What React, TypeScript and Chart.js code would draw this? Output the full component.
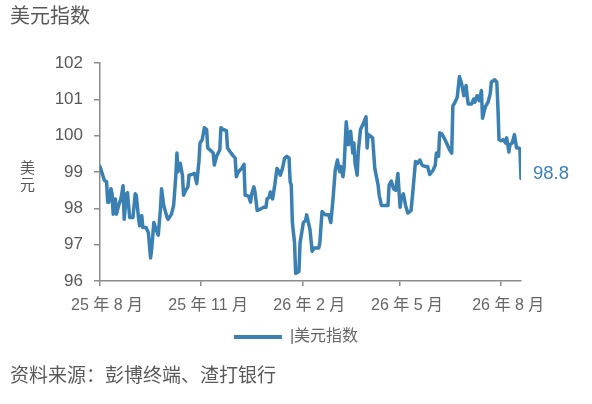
import React, { useEffect, useRef } from "react";
import { Chart, registerables } from "chart.js";

Chart.register(...registerables);

// Days since 2025-08-01 for each observation
const days = [0,2,4,6,7,8,9,10,11,12,14,15,17,19,21,22,24,25,27,30,32,33,35,36,38,39,42,44,46,47,49,51,53,55,56,58,61,62,65,67,69,70,71,73,75,76,78,80,81,83,86,88,90,91,93,95,97,98,100,103,104,106,109,110,112,115,116,118,121,123,124,126,129,131,132,135,137,138,140,141,143,146,149,151,152,154,155,157,159,161,163,164,166,168,170,172,173,174,175,177,178,181,182,185,187,188,191,193,195,199,200,202,205,208,210,212,214,216,218,219,221,222,224,226,228,230,231,232,234,235,237,240,242,243,244,246,248,250,253,254,256,258,262,263,265,267,269,271,273,274,276,278,280,283,285,287,289,291,293,296,298,300,303,305,306,308,309,311,313,316,318,320,321,323,325,327,329,331,333,334,335,338,340,341,343,345,347,348,350,351,353,355,356,359,361,362,363,365,367,369,370,372,373,375,377,379,381,382,383];

// US dollar index values
const dxyValues = [99.15,98.96,98.77,98.73,98.17,98.17,98.40,98.54,98.40,97.84,98.26,97.84,98.08,98.26,98.62,97.70,98.40,98.43,97.75,97.75,98.40,98.36,97.75,97.52,97.80,97.47,97.47,97.33,96.63,96.87,97.61,97.42,97.26,97.98,98.54,98.08,97.75,97.70,97.84,98.08,98.91,99.52,99.01,99.24,98.91,98.36,98.50,98.59,98.91,98.93,98.96,98.68,99.29,99.80,99.89,100.22,100.17,99.66,99.61,99.52,99.19,99.43,99.61,100.22,100.17,100.14,99.66,99.57,99.45,99.38,98.87,99.01,99.10,99.21,98.36,98.34,98.17,98.40,98.59,98.45,97.94,97.98,98.03,98.03,98.26,98.31,98.45,98.26,98.64,99.10,99.01,98.91,99.10,99.38,99.43,99.38,98.73,98.64,97.61,97.05,96.21,96.26,97.05,97.61,97.66,97.82,97.42,96.82,96.91,96.91,97.05,97.91,97.82,97.82,97.61,98.26,99.05,99.33,99.01,99.15,98.87,99.10,100.38,99.75,100.12,99.52,99.80,99.24,98.91,99.57,100.17,100.36,100.52,99.66,100.03,99.99,99.94,99.10,98.64,98.36,98.08,98.08,98.08,98.64,98.75,98.54,98.50,98.96,98.03,98.26,98.40,98.08,97.87,97.94,98.59,99.29,99.24,99.33,99.19,99.15,99.15,98.93,99.05,99.19,99.52,99.43,100.08,100.05,99.94,99.75,99.61,99.52,100.82,100.92,101.06,101.63,101.43,101.10,101.38,101.10,100.87,100.87,101.01,100.92,101.10,100.96,101.24,100.48,100.73,100.82,100.92,101.15,101.47,101.54,101.47,100.78,99.89,99.86,99.89,99.80,99.94,99.55,99.75,99.80,100.03,99.66,99.66,99.64,98.82];

// X tick positions (days since 2025-08-01) and their labels
const tickDays = [0, 92, 184, 273, 365];
const tickLabels = ["25 年 8 月", "25 年 11 月", "26 年 2 月", "26 年 5 月", "26 年 8 月"];

const seriesName = "|美元指数";
const titleText = "美元指数";
const yUnit = ["美", "元"];
const sourceText = "资料来源：彭博终端、渣打银行";

const BLUE = "#3a80b3";
const GRAY = "#595959";
const AXIS = "#8c8c8c";
const FONT = "'Liberation Sans', 'Noto Sans CJK SC', sans-serif";

const endLabelPlugin = {
  id: "endLabel",
  afterDatasetsDraw(chart: any) {
    const meta = chart.getDatasetMeta(0);
    const pts = meta.data;
    if (!pts.length) return;
    const last = pts[pts.length - 1];
    const v = dxyValues[dxyValues.length - 1];
    const ctx = chart.ctx;
    ctx.save();
    ctx.font = `18.5px ${FONT}`;
    ctx.fillStyle = BLUE;
    ctx.textAlign = "left";
    ctx.textBaseline = "middle";
    ctx.fillText(v.toFixed(1), last.x + 12, last.y - 5);
    ctx.restore();
  },
};

export default function App() {
  const ref = useRef<HTMLCanvasElement>(null);

  useEffect(() => {
    if (!ref.current) return;
    const data = days.map((d, i) => ({ x: d, y: dxyValues[i] }));
    const chart = new Chart(ref.current, {
      type: "line",
      data: {
        datasets: [
          {
            label: seriesName,
            data,
            borderColor: BLUE,
            backgroundColor: BLUE,
            borderWidth: 3.5,
            pointRadius: 0,
            tension: 0,
            borderJoinStyle: "round",
            borderCapStyle: "round",
          },
        ],
      },
      options: {
        animation: false,
        responsive: false,
        layout: { padding: { top: 63, left: 10, right: 10, bottom: 49 } },
        plugins: {
          tooltip: { enabled: false },
          legend: {
            display: true,
            position: "bottom",
            labels: {
              boxWidth: 48,
              boxHeight: 4,
              color: "#666666",
              font: { size: 16, family: FONT },
              generateLabels: (c: any) =>
                Chart.defaults.plugins.legend.labels
                  .generateLabels(c)
                  .map((l: any) => ({ ...l, lineWidth: 0, fillStyle: BLUE })),
            },
          },
        },
        scales: {
          x: {
            type: "linear",
            min: 0,
            max: days[days.length - 1],
            afterBuildTicks: (s: any) => {
              s.ticks = tickDays.map((v) => ({ value: v }));
            },
            afterFit: (s: any) => {
              s.height = 38;
            },
            ticks: {
              autoSkip: false,
              maxRotation: 0,
              padding: 10,
              labelOffset: 7,
              color: "#666666",
              font: { size: 16, family: FONT },
              callback: (v: any) => {
                const i = tickDays.indexOf(Number(v));
                return i >= 0 ? tickLabels[i] : null;
              },
            },
            grid: {
              drawOnChartArea: false,
              drawTicks: true,
              tickLength: 5,
              color: AXIS,
              lineWidth: 1.5,
            },
            border: { display: true, color: AXIS, width: 1.5 },
          },
          y: {
            type: "linear",
            min: 96,
            max: 102,
            afterFit: (s: any) => {
              s.width = 90;
            },
            ticks: {
              stepSize: 1,
              padding: 11,
              color: GRAY,
              font: { size: 17, family: FONT },
            },
            grid: {
              drawOnChartArea: false,
              drawTicks: true,
              tickLength: 6,
              color: AXIS,
              lineWidth: 1.5,
            },
            border: { display: true, color: AXIS, width: 1.5 },
          },
          yRight: {
            type: "linear",
            position: "right",
            display: true,
            afterFit: (s: any) => {
              s.width = 61;
            },
            ticks: { display: false },
            grid: { display: false, drawTicks: false },
            border: { display: false },
          },
        },
      },
      plugins: [endLabelPlugin],
    } as any);
    return () => chart.destroy();
  }, []);

  return (
    <div
      style={{
        position: "fixed",
        left: 0,
        top: 0,
        width: 592,
        height: 404,
        background: "#ffffff",
        overflow: "hidden",
      }}
    >
      <canvas
        ref={ref}
        width={592}
        height={404}
        style={{ position: "absolute", left: 0, top: 0, width: 592, height: 404 }}
      />
      <div
        style={{
          position: "absolute",
          left: 10,
          top: 6,
          fontSize: 20,
          lineHeight: "20px",
          color: GRAY,
          fontFamily: FONT,
          whiteSpace: "nowrap",
        }}
      >
        {titleText}
      </div>
      <div
        style={{
          position: "absolute",
          left: 20,
          top: 159,
          fontSize: 15,
          lineHeight: "17px",
          color: GRAY,
          fontFamily: FONT,
        }}
      >
        {yUnit.map((c, i) => (
          <div key={i}>{c}</div>
        ))}
      </div>
      <div
        style={{
          position: "absolute",
          left: 10,
          top: 366,
          fontSize: 19,
          lineHeight: "19px",
          color: GRAY,
          fontFamily: FONT,
          whiteSpace: "nowrap",
        }}
      >
        {sourceText}
      </div>
    </div>
  );
}
